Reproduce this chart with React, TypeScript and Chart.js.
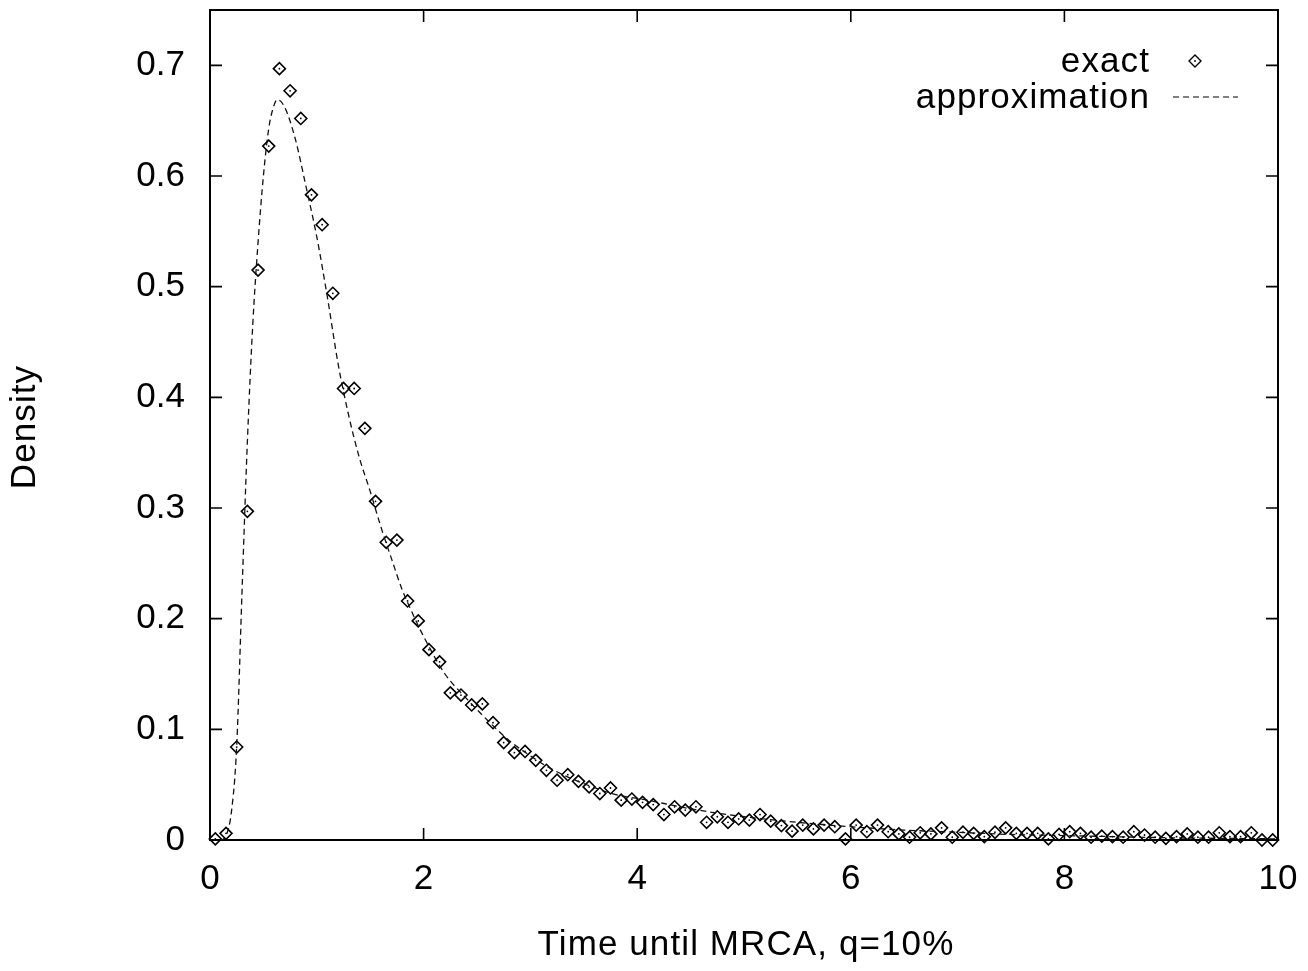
import React, { useEffect, useRef } from "react";
import { Chart, registerables } from "chart.js";

Chart.register(...registerables);

const exactX = [
  0.05, 0.15, 0.25, 0.35, 0.45, 0.55, 0.65, 0.75, 0.85, 0.95,
  1.05, 1.15, 1.25, 1.35, 1.45, 1.55, 1.65, 1.75, 1.85, 1.95,
  2.05, 2.15, 2.25, 2.35, 2.45, 2.55, 2.65, 2.75, 2.85, 2.95,
  3.05, 3.15, 3.25, 3.35, 3.45, 3.55, 3.65, 3.75, 3.85, 3.95,
  4.05, 4.15, 4.25, 4.35, 4.45, 4.55, 4.65, 4.75, 4.85, 4.95,
  5.05, 5.15, 5.25, 5.35, 5.45, 5.55, 5.65, 5.75, 5.85, 5.95,
  6.05, 6.15, 6.25, 6.35, 6.45, 6.55, 6.65, 6.75, 6.85, 6.95,
  7.05, 7.15, 7.25, 7.35, 7.45, 7.55, 7.65, 7.75, 7.85, 7.95,
  8.05, 8.15, 8.25, 8.35, 8.45, 8.55, 8.65, 8.75, 8.85, 8.95,
  9.05, 9.15, 9.25, 9.35, 9.45, 9.55, 9.65, 9.75, 9.85, 9.95,
];

const exactY = [
  0.001, 0.006, 0.084, 0.297, 0.515, 0.627, 0.697, 0.677, 0.652, 0.583,
  0.556, 0.494, 0.408, 0.408, 0.372, 0.306, 0.269, 0.271, 0.216, 0.198,
  0.172, 0.161, 0.133, 0.131, 0.122, 0.123, 0.106, 0.088, 0.079, 0.080,
  0.072, 0.063, 0.054, 0.059, 0.053, 0.048, 0.042, 0.047, 0.036, 0.037,
  0.034, 0.032, 0.023, 0.030, 0.027, 0.030, 0.016, 0.021, 0.016, 0.019,
  0.018, 0.023, 0.017, 0.013, 0.008, 0.0135, 0.010, 0.0135, 0.012, 0.001,
  0.0135, 0.0075, 0.0135, 0.0075, 0.0055, 0.0025, 0.0065, 0.0055, 0.011, 0.0025,
  0.007, 0.006, 0.003, 0.007, 0.011, 0.006, 0.006, 0.006, 0.001, 0.005,
  0.0075, 0.006, 0.0025, 0.0035, 0.003, 0.0025, 0.0075, 0.0045, 0.0025, 0.0015,
  0.003, 0.0055, 0.0025, 0.0025, 0.0065, 0.003, 0.003, 0.0065, 0.0, 0.0,
];

const approxX = [
  0.0, 0.1, 0.15, 0.2, 0.25, 0.3, 0.35, 0.4, 0.45, 0.5,
  0.55, 0.6, 0.63, 0.7, 0.8, 0.9, 1.0, 1.1, 1.2, 1.3,
  1.4, 1.5, 1.6, 1.7, 1.8, 1.9, 2.0, 2.2, 2.4, 2.6,
  2.8, 3.0, 3.2, 3.5, 3.8, 4.1, 4.4, 4.7, 5.0, 5.5,
  6.0, 6.5, 7.0, 7.5, 8.0, 9.0, 10.0,
];

const approxY = [
  0.0, 0.0, 0.004, 0.025, 0.085, 0.225, 0.36, 0.465, 0.54, 0.6,
  0.643, 0.664, 0.669, 0.662, 0.633, 0.59, 0.545, 0.49, 0.43, 0.383,
  0.345, 0.315, 0.283, 0.254, 0.226, 0.204, 0.184, 0.15, 0.128, 0.108,
  0.09, 0.076, 0.064, 0.051, 0.041, 0.036, 0.03, 0.025, 0.021, 0.016,
  0.012, 0.009, 0.007, 0.005, 0.004, 0.002, 0.001,
];

const xTickValues = [0, 2, 4, 6, 8, 10];
const xTickLabels = ["0", "2", "4", "6", "8", "10"];
const yTickValues = [0, 0.1, 0.2, 0.3, 0.4, 0.5, 0.6, 0.7];
const yTickLabels = ["0", "0.1", "0.2", "0.3", "0.4", "0.5", "0.6", "0.7"];

const xTitle = "Time until MRCA, q=10%";
const yTitle = "Density";
const legendExact = "exact";
const legendApprox = "approximation";

const FONT = "Liberation Sans, Arial, Helvetica, sans-serif";
const FS = 35;

const framePlugin = {
  id: "framePlugin",
  beforeDatasetsDraw(chart: any) {
    const { ctx, chartArea } = chart;
    const { left, right, top, bottom } = chartArea;
    const xs = chart.scales.x;
    const ys = chart.scales.y;
    ctx.save();
    ctx.strokeStyle = "#000";
    ctx.lineWidth = 2;
    ctx.setLineDash([]);
    ctx.strokeRect(left, top, right - left, bottom - top);
    ctx.lineWidth = 1.6;
    const TL = 12;
    ctx.beginPath();
    for (const v of xTickValues) {
      const px = xs.getPixelForValue(v);
      ctx.moveTo(px, bottom);
      ctx.lineTo(px, bottom - TL);
      ctx.moveTo(px, top);
      ctx.lineTo(px, top + TL);
    }
    for (const v of yTickValues) {
      const py = ys.getPixelForValue(v);
      ctx.moveTo(left, py);
      ctx.lineTo(left + TL, py);
      ctx.moveTo(right, py);
      ctx.lineTo(right - TL, py);
    }
    ctx.stroke();
    ctx.restore();
  },
  afterDraw(chart: any) {
    const { ctx } = chart;
    ctx.save();
    ctx.fillStyle = "#000";
    ctx.strokeStyle = "#000";
    ctx.font = `${FS}px ${FONT}`;
    try { (ctx as any).letterSpacing = "1.1px"; } catch (e) {}
    ctx.textAlign = "center";
    ctx.textBaseline = "alphabetic";
    ctx.fillText(xTitle, 746, 955);
    ctx.save();
    ctx.translate(35, 427);
    ctx.rotate(-Math.PI / 2);
    ctx.fillText(yTitle, 0, 0);
    ctx.restore();
    ctx.textAlign = "right";
    ctx.fillText(legendExact, 1150, 72);
    ctx.fillText(legendApprox, 1150, 108);
    try { (ctx as any).letterSpacing = "0px"; } catch (e) {}
    const cx = 1195, cy = 61, r = 6;
    ctx.lineWidth = 1.4;
    ctx.beginPath();
    ctx.moveTo(cx, cy - r);
    ctx.lineTo(cx + r, cy);
    ctx.lineTo(cx, cy + r);
    ctx.lineTo(cx - r, cy);
    ctx.closePath();
    ctx.stroke();
    ctx.beginPath();
    ctx.arc(cx, cy, 0.9, 0, Math.PI * 2);
    ctx.fill();
    ctx.lineWidth = 1.1;
    ctx.setLineDash([6, 4]);
    ctx.beginPath();
    ctx.moveTo(1173, 97);
    ctx.lineTo(1238, 97);
    ctx.stroke();
    ctx.restore();
  },
};

export default function App() {
  const ref = useRef<HTMLCanvasElement | null>(null);

  useEffect(() => {
    document.body.style.margin = "0";
    if (!ref.current) return;
    const chart = new Chart(ref.current, {
      type: "scatter",
      data: {
        datasets: [
          {
            label: legendApprox,
            data: approxX.map((x, i) => ({ x, y: approxY[i] })),
            showLine: true,
            borderColor: "#111",
            borderWidth: 1.3,
            borderDash: [6, 4],
            pointRadius: 0,
            cubicInterpolationMode: "monotone",
            fill: false,
          } as any,
          {
            label: legendExact,
            data: exactX.map((x, i) => ({ x, y: exactY[i] })),
            showLine: false,
            pointStyle: "rectRot",
            pointRadius: 6,
            pointBorderWidth: 1.6,
            pointBorderColor: "#000",
            pointBackgroundColor: "rgba(0,0,0,0)",
            clip: false,
          } as any,
          {
            label: "exact-center",
            data: exactX.map((x, i) => ({ x, y: exactY[i] })),
            showLine: false,
            pointStyle: "circle",
            pointRadius: 0.9,
            pointBorderWidth: 0,
            pointBackgroundColor: "#000",
            clip: false,
          } as any,
        ],
      },
      options: {
        animation: false,
        responsive: false,
        devicePixelRatio: 1,
        layout: { padding: { left: 0, top: 10, right: 30, bottom: 0 } },
        plugins: {
          legend: { display: false },
          tooltip: { enabled: false },
          title: { display: false },
        },
        scales: {
          x: {
            type: "linear",
            min: 0,
            max: 10,
            afterFit: (s: any) => {
              s.height = 131;
              s.paddingLeft = 0;
              s.paddingRight = 0;
              s.paddingTop = 0;
              s.paddingBottom = 0;
            },
            afterBuildTicks: (s: any) => {
              s.ticks = xTickValues.map((v) => ({ value: v }));
            },
            ticks: {
              color: "#000",
              font: { family: FONT, size: FS },
              padding: 18,
              maxRotation: 0,
              autoSkip: false,
              callback: (v: any) => {
                const i = xTickValues.indexOf(Number(v));
                return i >= 0 ? xTickLabels[i] : "";
              },
            },
            grid: { display: false, drawTicks: false },
            border: { display: false },
          },
          y: {
            type: "linear",
            min: 0,
            max: 0.75,
            afterFit: (s: any) => {
              s.width = 210;
              s.paddingLeft = 0;
              s.paddingRight = 0;
              s.paddingTop = 0;
              s.paddingBottom = 0;
            },
            afterBuildTicks: (s: any) => {
              s.ticks = yTickValues.map((v) => ({ value: v }));
            },
            ticks: {
              color: "#000",
              font: { family: FONT, size: FS },
              padding: 25,
              autoSkip: false,
              callback: (v: any) => {
                const i = yTickValues.findIndex((t) => Math.abs(t - Number(v)) < 1e-9);
                return i >= 0 ? yTickLabels[i] : "";
              },
            },
            grid: { display: false, drawTicks: false },
            border: { display: false },
          },
        },
      },
      plugins: [framePlugin],
    });
    return () => chart.destroy();
  }, []);

  return (
    <div style={{ position: "absolute", left: 0, top: 0, width: 1308, height: 971, background: "#fff" }}>
      <canvas ref={ref} width={1308} height={971} style={{ width: 1308, height: 971 }} />
    </div>
  );
}
